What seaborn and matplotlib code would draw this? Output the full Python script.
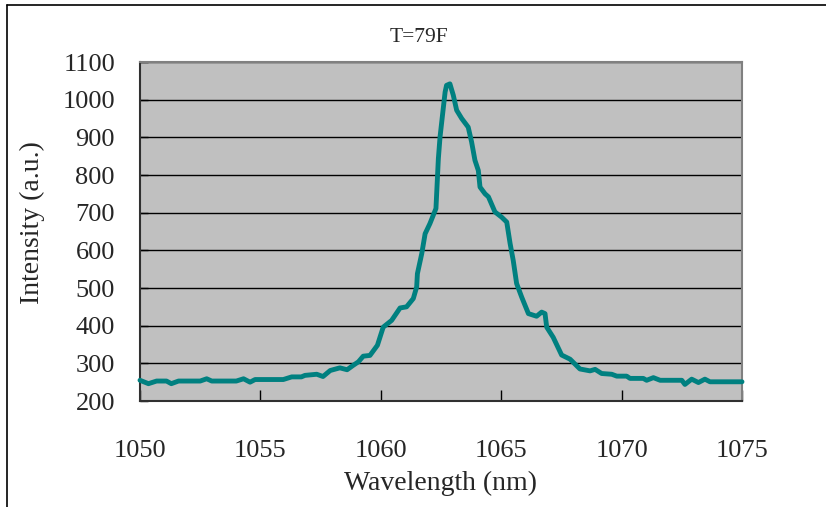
import matplotlib
matplotlib.use("Agg")
import matplotlib.pyplot as plt
import seaborn as sns
import pandas as pd
from matplotlib.lines import Line2D

wavelength = [1050.0, 1050.35, 1050.69, 1051.1, 1051.3, 1051.6, 1052.5, 1052.77, 1052.98,
              1054.0, 1054.3, 1054.57, 1054.78, 1055.95, 1056.3, 1056.7, 1056.85, 1057.34,
              1057.6, 1057.9, 1058.3, 1058.6, 1058.86, 1059.07, 1059.27, 1059.55, 1059.86,
              1060.1, 1060.45, 1060.8, 1061.07, 1061.35, 1061.49, 1061.52, 1061.7, 1061.84,
              1062.04, 1062.29, 1062.39, 1062.46, 1062.67, 1062.73, 1062.87, 1063.01, 1063.15,
              1063.36, 1063.63, 1063.77, 1063.91, 1064.05, 1064.12, 1064.33, 1064.47, 1064.74,
              1065.02, 1065.23, 1065.37, 1065.5, 1065.64, 1065.85, 1066.13, 1066.47, 1066.68,
              1066.82, 1066.89, 1067.16, 1067.51, 1067.86, 1068.27, 1068.69, 1068.9, 1069.17,
              1069.59, 1069.8, 1070.21, 1070.35, 1070.9, 1071.04, 1071.32, 1071.6, 1072.5,
              1072.63, 1072.91, 1073.19, 1073.46, 1073.67, 1075.0]
intensity = [255, 246, 253, 253, 246, 253, 253, 259, 253,
             253, 259, 250, 257, 257, 264, 264, 268, 271,
             265, 281, 288, 283, 295, 304, 319, 321, 348,
             396, 414, 447, 450, 472, 503, 538, 591, 644,
             671, 711, 843, 901, 1020, 1038, 1042, 1012, 972,
             950, 927, 888, 839, 812, 768, 750, 742, 702,
             688, 675, 618, 573, 512, 476, 432, 425, 436,
             432, 396, 369, 322, 311, 285, 280, 284, 273,
             271, 266, 266, 260, 260, 255, 262, 255, 255,
             244, 258, 249, 258, 251, 251]
x_ticks = [1050, 1055, 1060, 1065, 1070, 1075]
y_ticks = [200, 300, 400, 500, 600, 700, 800, 900, 1000, 1100]
title = "T=79F"
x_label = "Wavelength (nm)"
y_label = "Intensity (a.u.)"

df = pd.DataFrame({"wavelength": wavelength, "intensity": intensity})

sns.set_style("white")
plt.rcParams["font.family"] = ["Liberation Serif", "DejaVu Serif"]

W, H = 826, 507
fig = plt.figure(figsize=(W / 100, H / 100), dpi=100)
ax = fig.add_axes([140 / W, 1 - 401 / H, (742 - 140) / W, (401 - 62) / H])
ax.set_facecolor("#C0C0C0")

sns.lineplot(data=df, x="wavelength", y="intensity", ax=ax, color="#008080",
             linewidth=3.5, solid_joinstyle="round", solid_capstyle="round",
             zorder=3, clip_on=False)

ax.set_xlim(1050, 1075)
ax.set_ylim(200, 1100)
ax.set_xticks(x_ticks)
ax.set_yticks(y_ticks)
ax.yaxis.grid(True, color="black", linewidth=1.0)
ax.xaxis.grid(False)
ax.set_axisbelow(True)

ax.tick_params(axis="x", direction="in", length=8, width=1, color="black",
               labelsize=19, pad=28, bottom=True, top=False)
ax.tick_params(axis="y", direction="in", length=6, width=1, color="black",
               labelsize=19, pad=18, left=True, right=False)

for side in ["top", "right"]:
    ax.spines[side].set_color("#808080")
    ax.spines[side].set_linewidth(1.5)
for side in ["left", "bottom"]:
    ax.spines[side].set_color("#303030")
    ax.spines[side].set_linewidth(1.5)

ax.set_xlabel("")
ax.set_ylabel("")

fig.text(419 / W, 1 - 38 / H, title, ha="center", va="center", fontsize=15.5)
fig.text(441 / W, 1 - 483 / H, x_label, ha="center", va="center", fontsize=20)
fig.text(32 / W, 1 - 223 / H, y_label, ha="center", va="center", fontsize=20,
         rotation=90)

# outer chart border (left and top visible)
fig.add_artist(Line2D([7 / W, 7 / W], [0, 1 - 5 / H], transform=fig.transFigure,
                      color="black", linewidth=1.2))
fig.add_artist(Line2D([7 / W, 1], [1 - 5 / H, 1 - 5 / H], transform=fig.transFigure,
                      color="black", linewidth=1.2))

fig.savefig("out.png", dpi=100, facecolor="white")
